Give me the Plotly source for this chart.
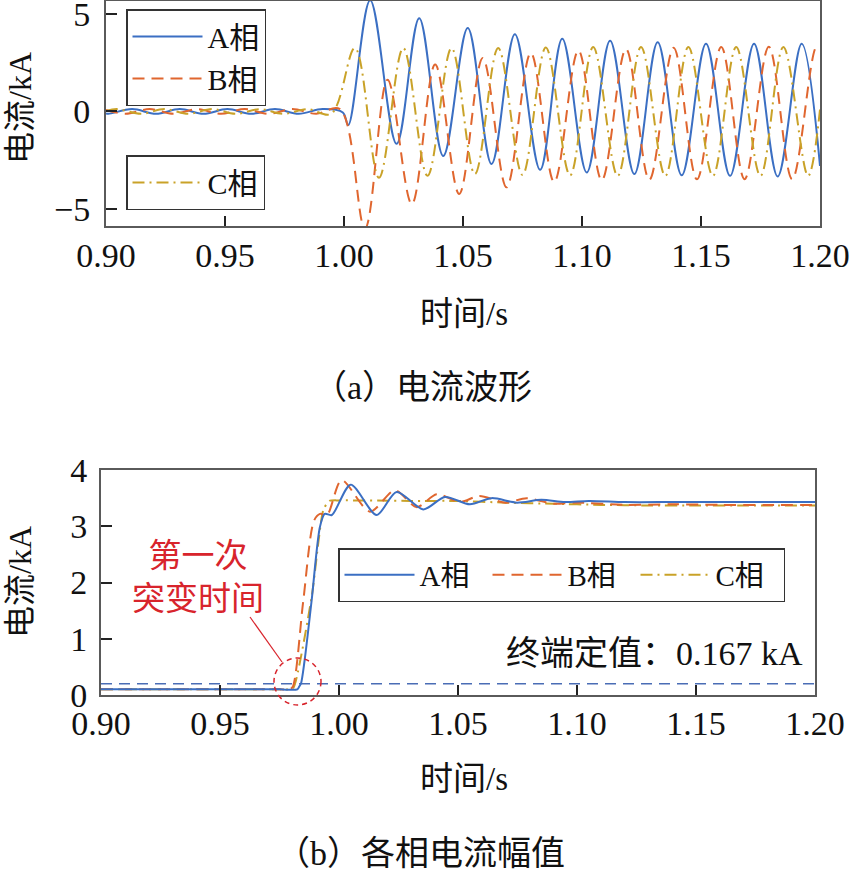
import plotly.graph_objects as go

# ---------------- data: (a) phase current waveforms, kA (read at extrema) ----------------
t_a = [0.900, 0.901, 0.911, 0.921, 0.931, 0.941, 0.951, 0.961, 0.971, 0.981, 0.991, 0.9995,
       1.0018, 1.0110, 1.0221, 1.0316, 1.0417, 1.0520, 1.0620, 1.0718, 1.0824, 1.0917, 1.1020,
       1.1118, 1.1220, 1.1318, 1.1419, 1.1521, 1.1622, 1.1723, 1.1822, 1.1923, 1.2000]
i_a = [-0.10, -0.12, 0.12, -0.12, 0.12, -0.12, 0.12, -0.12, 0.12, -0.12, 0.12, -0.05,
       -0.70, 5.70, -1.66, 4.78, -2.28, 4.27, -2.69, 3.96, -2.99, 3.72, -3.13,
       3.62, -3.21, 3.54, -3.27, 3.47, -3.30, 3.47, -3.33, 3.47, -2.79]

t_b = [0.900, 0.9083, 0.9183, 0.9283, 0.9383, 0.9483, 0.9583, 0.9683, 0.9783, 0.9883, 0.9983,
       1.0088, 1.0183, 1.0285, 1.0383, 1.0484, 1.0583, 1.0683, 1.0785, 1.0883, 1.0985, 1.1083,
       1.1185, 1.1283, 1.1385, 1.1483, 1.1585, 1.1683, 1.1785, 1.1883, 1.1985, 1.2000]
i_b = [0.08, -0.12, 0.12, -0.12, 0.12, -0.12, 0.12, -0.12, 0.12, -0.12, 0.12,
       -6.00, 1.63, -4.74, 2.40, -4.23, 2.74, -3.89, 2.99, -3.61, 3.12, -3.52,
       3.20, -3.50, 3.26, -3.48, 3.30, -3.47, 3.32, -3.47, 3.33, 3.30]

t_c = [0.900, 0.9046, 0.9146, 0.9246, 0.9346, 0.9446, 0.9546, 0.9646, 0.9746, 0.9846, 0.9946,
       1.0046, 1.0147, 1.0249, 1.0351, 1.0452, 1.0550, 1.0648, 1.0750, 1.0848, 1.0950, 1.1047,
       1.1150, 1.1248, 1.1350, 1.1447, 1.1550, 1.1648, 1.1750, 1.1846, 1.1950, 1.2000]
i_c = [0.02, 0.12, -0.12, 0.12, -0.12, 0.12, -0.12, 0.12, -0.12, 0.12, -0.12,
       3.25, -3.40, 3.25, -3.30, 3.25, -3.21, 3.25, -3.25, 3.28, -3.28, 3.30,
       -3.30, 3.30, -3.30, 3.30, -3.30, 3.30, -3.30, 3.30, -3.30, 0.10]

# ---------------- data: (b) phase current amplitudes, kA ----------------
ta_amp = [0.900, 0.930, 0.960, 0.975, 0.9825, 0.9833, 0.9840, 0.9855, 0.9885, 0.9920, 0.9940,
          0.9970, 1.0049, 1.0158, 1.0242, 1.0354, 1.0445, 1.0550, 1.0641, 1.0747, 1.0850,
          1.0950, 1.1050, 1.1200, 1.1400, 1.1600, 1.1800, 1.2000]
ia_amp = [0.10, 0.10, 0.10, 0.10, 0.10, 0.15, 0.20, 0.60, 1.68, 2.99, 3.22,
          3.20, 3.74, 3.20, 3.61, 3.30, 3.52, 3.39, 3.50, 3.42, 3.47,
          3.43, 3.45, 3.43, 3.43, 3.43, 3.43, 3.43]

tb_amp = [0.900, 0.930, 0.960, 0.975, 0.9790, 0.9805, 0.9850, 0.9895, 0.9920, 0.9950, 1.0011,
          1.0130, 1.0235, 1.0327, 1.0410, 1.0508, 1.0590, 1.0700, 1.0788, 1.0900, 1.1000,
          1.1200, 1.1400, 1.1600, 1.1800, 1.2000]
ib_amp = [0.10, 0.10, 0.10, 0.10, 0.10, 0.14, 1.68, 3.10, 3.22, 3.20, 3.82,
          3.26, 3.64, 3.34, 3.57, 3.43, 3.54, 3.42, 3.50, 3.40, 3.42,
          3.38, 3.39, 3.38, 3.38, 3.38]

tc_amp = [0.900, 0.930, 0.960, 0.975, 0.9795, 0.9810, 0.9885, 0.9935, 0.9960, 1.0000, 1.0300,
          1.0500, 1.0700, 1.0900, 1.1100, 1.1300, 1.1500, 1.1700, 1.2000]
ic_amp = [0.10, 0.10, 0.10, 0.10, 0.10, 0.14, 1.74, 3.30, 3.45, 3.46, 3.45,
          3.45, 3.42, 3.40, 3.38, 3.37, 3.37, 3.37, 3.37]

threshold_t = [0.90, 1.20]
threshold_kA = 0.2

x_ticks = [0.90, 0.95, 1.00, 1.05, 1.10, 1.15, 1.20]
x_tick_text = ["0.90", "0.95", "1.00", "1.05", "1.10", "1.15", "1.20"]
y_ticks_a = [-5, 0, 5]
y_ticks_b = [0, 1, 2, 3, 4]

phase_names = ["A相", "B相", "C相"]

# ---------------- style ----------------
W, H = 850, 873
FONT = "Liberation Serif, Noto Sans CJK SC, serif"
BLUE = "#3b6fc3"
ORANGE = "#e0662f"
GOLD = "#c9a228"
RED = "#d8242c"
AXC = "#5a5a5a"
DASH_B = "12px,7px"
DASH_C = "12px,5px,2px,5px"


def px_x(p):
    return p / W


def px_y(p):
    return 1 - p / H


fig = go.Figure()

# (a) waveforms
fig.add_trace(go.Scatter(x=t_a, y=i_a, mode="lines", name=phase_names[0], legend="legend",
                         line=dict(color=BLUE, width=2, shape="spline"), xaxis="x", yaxis="y"))
fig.add_trace(go.Scatter(x=t_b, y=i_b, mode="lines", name=phase_names[1], legend="legend",
                         line=dict(color=ORANGE, width=2, shape="spline", dash=DASH_B),
                         xaxis="x", yaxis="y"))
fig.add_trace(go.Scatter(x=t_c, y=i_c, mode="lines", name=phase_names[2], legend="legend2",
                         line=dict(color=GOLD, width=2, shape="spline", dash=DASH_C),
                         xaxis="x", yaxis="y"))

# (b) amplitudes
fig.add_trace(go.Scatter(x=threshold_t, y=[threshold_kA, threshold_kA], mode="lines", showlegend=False,
                         line=dict(color="#4a6db5", width=1.5, dash="11px,7px"), xaxis="x2", yaxis="y2"))
fig.add_trace(go.Scatter(x=tc_amp, y=ic_amp, mode="lines", name=phase_names[2], legend="legend3",
                         line=dict(color=GOLD, width=2, shape="spline", smoothing=0.6, dash=DASH_C),
                         xaxis="x2", yaxis="y2"))
fig.add_trace(go.Scatter(x=tb_amp, y=ib_amp, mode="lines", name=phase_names[1], legend="legend3",
                         line=dict(color=ORANGE, width=2, shape="spline", smoothing=0.8, dash=DASH_B),
                         xaxis="x2", yaxis="y2"))
fig.add_trace(go.Scatter(x=ta_amp, y=ia_amp, mode="lines", name=phase_names[0], legend="legend3",
                         line=dict(color=BLUE, width=2, shape="spline", smoothing=0.8),
                         xaxis="x2", yaxis="y2"))

axis_common = dict(showline=True, mirror=True, linecolor=AXC, linewidth=2, ticks="inside",
                   tickcolor="#222", tickwidth=1.5, showgrid=False, zeroline=False, automargin=False,
                   ticklabeloverflow="allow",
                   tickfont=dict(family=FONT, size=34, color="#111"))

legend_common = dict(font=dict(family=FONT, size=30, color="#111"), bgcolor="white",
                     bordercolor="#333", borderwidth=1.5, xanchor="left", yanchor="top",
                     traceorder="normal", itemwidth=70)

fig.update_layout(
    template="none",
    width=W, height=H, margin=dict(l=0, r=0, t=0, b=0, pad=0, autoexpand=False),
    paper_bgcolor="white", plot_bgcolor="white",
    font=dict(family=FONT, size=28, color="#111"),
    xaxis=dict(axis_common, domain=[px_x(106), px_x(820)], range=[0.9, 1.2], anchor="y",
               tickvals=x_ticks, ticktext=x_tick_text, ticklen=10, ticklabelstandoff=-2),
    yaxis=dict(axis_common, domain=[px_y(226), px_y(1)], range=[-5.87, 5.66], anchor="x",
               tickvals=y_ticks_a, ticklen=11, ticklabelstandoff=7),
    xaxis2=dict(axis_common, domain=[px_x(101), px_x(815)], range=[0.9, 1.2], anchor="y2",
                tickvals=x_ticks, ticktext=x_tick_text, ticklen=10, ticklabelstandoff=-3),
    yaxis2=dict(axis_common, domain=[px_y(695), px_y(470)], range=[0, 4], anchor="x2",
                tickvals=y_ticks_b, ticklen=11, ticklabelstandoff=5),
    legend=dict(legend_common, x=px_x(126), y=px_y(9), entrywidth=112),
    legend2=dict(legend_common, x=px_x(126), y=px_y(155), entrywidth=112),
    legend3=dict(legend_common, x=px_x(338), y=px_y(548), orientation="h",
                 traceorder="reversed", entrywidth=63, font=dict(family=FONT, size=29, color="#111")),
    showlegend=True,
)

ann = []
# axis titles
for yc in (314, 779):
    ann.append(dict(text="时间/s", x=px_x(464), y=px_y(yc), xref="paper", yref="paper",
                    showarrow=False, font=dict(family=FONT, size=33), xanchor="center", yanchor="middle"))
for yc in (108, 582):
    ann.append(dict(text="电流/kA", x=px_x(20), y=px_y(yc), xref="paper", yref="paper",
                    showarrow=False, textangle=-90, font=dict(family=FONT, size=32),
                    xanchor="center", yanchor="middle"))
# captions
ann.append(dict(text="（a）电流波形", x=px_x(422), y=px_y(387), xref="paper", yref="paper",
                showarrow=False, font=dict(family=FONT, size=34), xanchor="center", yanchor="middle"))
ann.append(dict(text="（b）各相电流幅值", x=px_x(420), y=px_y(853), xref="paper", yref="paper",
                showarrow=False, font=dict(family=FONT, size=34), xanchor="center", yanchor="middle"))
# red annotation
ann.append(dict(text="第一次<br>突变时间", x=px_x(198), y=px_y(577), xref="paper", yref="paper",
                showarrow=False, font=dict(family=FONT, size=33, color=RED), align="center",
                xanchor="center", yanchor="middle"))
ann.append(dict(text="终端定值：0.167 kA", x=px_x(805), y=px_y(653), xref="paper", yref="paper",
                showarrow=False, font=dict(family=FONT, size=34), xanchor="right", yanchor="middle"))

shapes = [
    dict(type="circle", xref="paper", yref="paper", x0=px_x(274), x1=px_x(321),
         y0=px_y(705), y1=px_y(658), line=dict(color=RED, width=1.5, dash="5px,4px")),
    dict(type="line", xref="paper", yref="paper", x0=px_x(250), y0=px_y(617),
         x1=px_x(282), y1=px_y(662), line=dict(color=RED, width=1.2)),
]

fig.update_layout(annotations=ann, shapes=shapes)
fig.write_html("out.html", config={"displayModeBar": False},
               post_script="document.body.style.margin='0';document.body.style.overflow='hidden';")
